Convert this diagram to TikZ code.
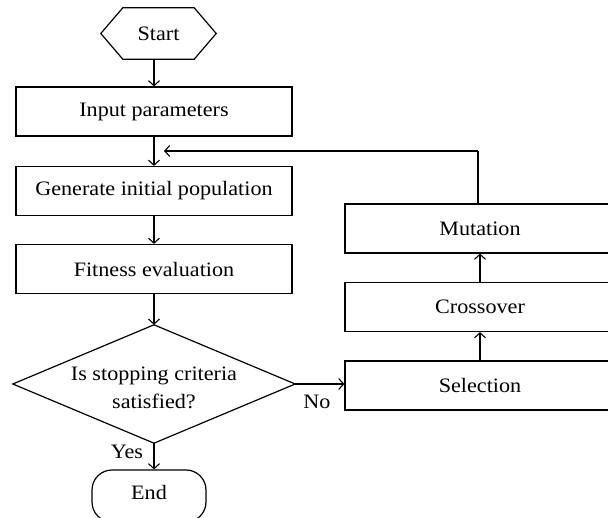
\documentclass[tikz,border=0pt]{standalone}
\usepackage{fontspec}
\setmainfont{Liberation Serif}[FakeStretch=1.08]
\usetikzlibrary{arrows.meta}
\begin{document}
\begin{tikzpicture}[x=1pt,y=-1pt,
  every node/.style={font=\fontsize{20.5}{28}\selectfont, inner sep=0pt},
  proc/.style={draw, line width=1.2pt, minimum width=276pt, minimum height=49pt},
  sbox/.style={draw, line width=1.2pt, minimum width=270pt, minimum height=49pt},
  flow/.style={line width=1.1pt, -{Straight Barb[length=5pt,width=11pt,line width=1.1pt]}},
  plain/.style={line width=1.1pt}]
\useasboundingbox (0,0) rectangle (608,518);
\clip (0,0) rectangle (608,518);
\node (start) [minimum width=115pt, minimum height=51pt] at (158.5,33.5) {Start};
\draw[line width=1.2pt] (start.west) -- ([xshift=22pt]start.north west) -- ([xshift=-22pt]start.north east) -- (start.east) -- ([xshift=-22pt]start.south east) -- ([xshift=22pt]start.south west) -- cycle;
\node (input) [proc] at (154,111.5) {Input parameters};
\node (gen) [proc] at (154,191) {Generate initial population};
\node (fit) [proc] at (154,269) {Fitness evaluation};
\node (dec) [minimum width=282pt, minimum height=118pt] at (154,384) {};
\node (dect) [align=center] at (154,388) {Is stopping criteria\\satisfied?};
\draw[line width=1.2pt] (dec.west) -- (dec.north) -- (dec.east) -- (dec.south) -- cycle;
\node (end) [draw, line width=1.2pt, rounded corners=20pt, minimum width=114pt, minimum height=52pt] at (149,496) {};
\node (endt) at (149,492) {End};
\node (sel) [sbox] at (480,385.5) {Selection};
\node (cross) [sbox] at (480,307) {Crossover};
\node (mut) [sbox] at (480,228.5) {Mutation};
\coordinate (fb) at (478,151);
\coordinate (fbtip) at (164,151);
\draw[flow] (start.south -| input.north) -- (input.north);
\draw[flow] (input) -- (gen);
\draw[flow] (gen) -- (fit);
\draw[flow] (fit.south) -- (dec.north);
\draw[flow] (dec.south) -- (dec.south |- end.north);
\draw[flow] (dec.east) -- (dec.east -| sel.west);
\draw[flow] (sel) -- (cross);
\draw[flow] (cross) -- (mut);
\draw[plain] (mut.north -| fb) -- (fb);
\draw[flow] (fb) -- (fbtip);
\node (no) at (317,402) {No};
\node (yes) at (127,452) {Yes};
\end{tikzpicture}
\end{document}
